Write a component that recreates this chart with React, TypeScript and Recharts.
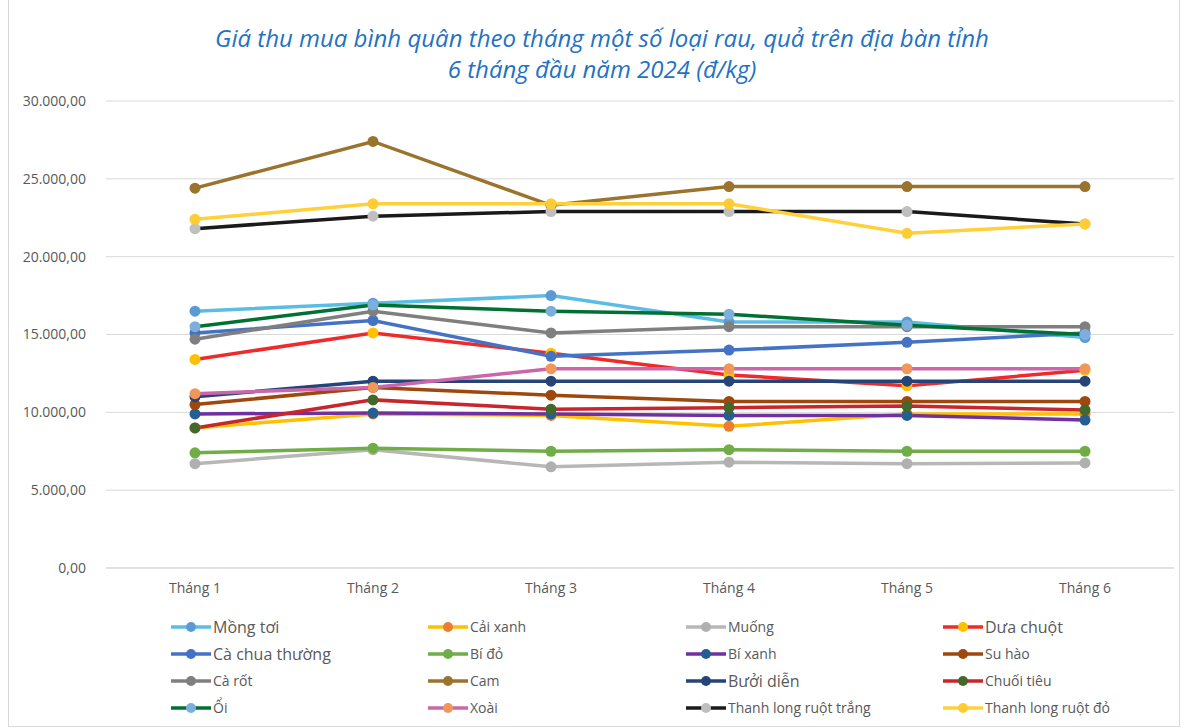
import React from 'react';
import { LineChart, Line, XAxis, YAxis, CartesianGrid } from 'recharts';

const months = ['Tháng 1', 'Tháng 2', 'Tháng 3', 'Tháng 4', 'Tháng 5', 'Tháng 6'];

const mongToi = [16500, 17000, 17500, 15800, 15800, 14800];
const caiXanh = [9000, 9900, 9800, 9100, 9900, 9900];
const muong = [6700, 7600, 6500, 6800, 6700, 6750];
const duaChuot = [13400, 15100, 13800, 12400, 11700, 12700];
const caChua = [15100, 15900, 13600, 14000, 14500, 15100];
const biDo = [7400, 7700, 7500, 7600, 7500, 7500];
const biXanh = [9900, 9950, 9900, 9800, 9800, 9500];
const suHao = [10500, 11600, 11100, 10700, 10700, 10700];
const caRot = [14700, 16500, 15100, 15500, 15500, 15500];
const cam = [24400, 27400, 23300, 24500, 24500, 24500];
const buoiDien = [11000, 12000, 12000, 12000, 12000, 12000];
const chuoiTieu = [9000, 10800, 10200, 10300, 10400, 10150];
const oi = [15500, 16900, 16500, 16300, 15600, 15000];
const xoai = [11200, 11600, 12800, 12800, 12800, 12800];
const tlTrang = [21800, 22600, 22900, 22900, 22900, 22100];
const tlDo = [22400, 23400, 23400, 23400, 21500, 22100];

const yTicks = [0, 5000, 10000, 15000, 20000, 25000, 30000];

const series = [
  { key: 'mongToi', name: 'Mồng tơi', values: mongToi, stroke: '#5bbde4', dot: '#5b9bd5', big: true },
  { key: 'caiXanh', name: 'Cải xanh', values: caiXanh, stroke: '#ffc000', dot: '#ed7d31', big: false },
  { key: 'muong', name: 'Muống', values: muong, stroke: '#b7b7b7', dot: '#b0b0b0', big: false },
  { key: 'duaChuot', name: 'Dưa chuột', values: duaChuot, stroke: '#ee2a2a', dot: '#ffc000', big: true },
  { key: 'caChua', name: 'Cà chua thường', values: caChua, stroke: '#4472c4', dot: '#4472c4', big: true },
  { key: 'biDo', name: 'Bí đỏ', values: biDo, stroke: '#70ad47', dot: '#70ad47', big: false },
  { key: 'biXanh', name: 'Bí xanh', values: biXanh, stroke: '#7030a0', dot: '#255e91', big: false },
  { key: 'suHao', name: 'Su hào', values: suHao, stroke: '#9e480e', dot: '#9e480e', big: false },
  { key: 'caRot', name: 'Cà rốt', values: caRot, stroke: '#7f7f7f', dot: '#7f7f7f', big: false },
  { key: 'cam', name: 'Cam', values: cam, stroke: '#9a732c', dot: '#9a732c', big: false },
  { key: 'buoiDien', name: 'Bưởi diễn', values: buoiDien, stroke: '#264478', dot: '#264478', big: true },
  { key: 'chuoiTieu', name: 'Chuối tiêu', values: chuoiTieu, stroke: '#c9252c', dot: '#43682b', big: false },
  { key: 'oi', name: 'Ổi', values: oi, stroke: '#007033', dot: '#7cafdd', big: false },
  { key: 'xoai', name: 'Xoài', values: xoai, stroke: '#cc66aa', dot: '#f1975a', big: false },
  { key: 'tlTrang', name: 'Thanh long ruột trắng', values: tlTrang, stroke: '#1a1a1a', dot: '#bfbfbf', big: false },
  { key: 'tlDo', name: 'Thanh long ruột đỏ', values: tlDo, stroke: '#ffd03a', dot: '#ffcc33', big: false },
];

const data = months.map((m, i) => {
  const row: Record<string, string | number> = { month: m };
  series.forEach((s) => { row[s.key] = s.values[i]; });
  return row;
});

const fmt = (v: number) => {
  const int = Math.round(v).toString().replace(/\B(?=(\d{3})+(?!\d))/g, '.');
  return int + ',00';
};

const font = '"Open Sans", "Noto Sans", sans-serif';

// legend drawn as html grid under the plot, 4 columns like the excel one
const LegendGrid = () => (
  <div style={{ position: 'absolute', left: 170, top: 613, display: 'grid', gridTemplateColumns: '257px 258px 257px 257px', fontFamily: font, color: '#595959' }}>
    {series.map((s) => (
      <div key={s.key} style={{ display: 'flex', alignItems: 'center', height: 27 }}>
        <svg width={42} height={12} style={{ marginRight: 1 }}>
          <line x1={1} y1={6} x2={41} y2={6} stroke={s.stroke} strokeWidth={3.5} />
          <circle cx={21} cy={6} r={5} fill={s.dot} />
        </svg>
        <span style={{ fontSize: s.big ? 16 : 14 }}>{s.name}</span>
      </div>
    ))}
  </div>
);

export default function App() {
  return (
    <div style={{ position: 'absolute', left: 0, top: 0, width: 1186, height: 728, background: '#fff' }}>
      <div style={{ position: 'absolute', left: 8, top: 0, width: 1170, height: 726, border: '1px solid #d9d9d9', borderTop: 'none' }} />
      <div style={{ position: 'absolute', left: 0, top: 22, width: 1204, textAlign: 'center', fontFamily: font, fontStyle: 'italic', fontSize: 24, lineHeight: '31px', color: '#1f72c4' }}>
        Giá thu mua bình quân theo tháng một số loại rau, quả trên địa bàn tỉnh
        <br />6 tháng đầu năm 2024 (đ/kg)
      </div>
      <div style={{ position: 'absolute', left: 0, top: 0 }}>
        <LineChart width={1186} height={728} data={data} margin={{ top: 101, right: 12, bottom: 130, left: 16 }}>
          <CartesianGrid vertical={false} stroke="#d9d9d9" />
          <XAxis dataKey="month" axisLine={{ stroke: '#d9d9d9' }} tickLine={false} tickMargin={9} padding={{ left: 89, right: 89 }}
            tick={{ fill: '#595959', fontSize: 14, fontFamily: font }} />
          <YAxis width={90} domain={[0, 30000]} ticks={yTicks} tickFormatter={fmt} axisLine={false} tickLine={false}
            tickMargin={14} tick={{ fill: '#595959', fontSize: 14, fontFamily: font }} />
          {series.map((s) => (
            <Line key={s.key} dataKey={s.key} name={s.name} type="linear" stroke={s.stroke} strokeWidth={3.5}
              dot={{ r: 5.5, fill: s.dot, stroke: s.dot, strokeWidth: 0 }} activeDot={false} isAnimationActive={false} />
          ))}
        </LineChart>
      </div>
      <LegendGrid />
    </div>
  );
}
